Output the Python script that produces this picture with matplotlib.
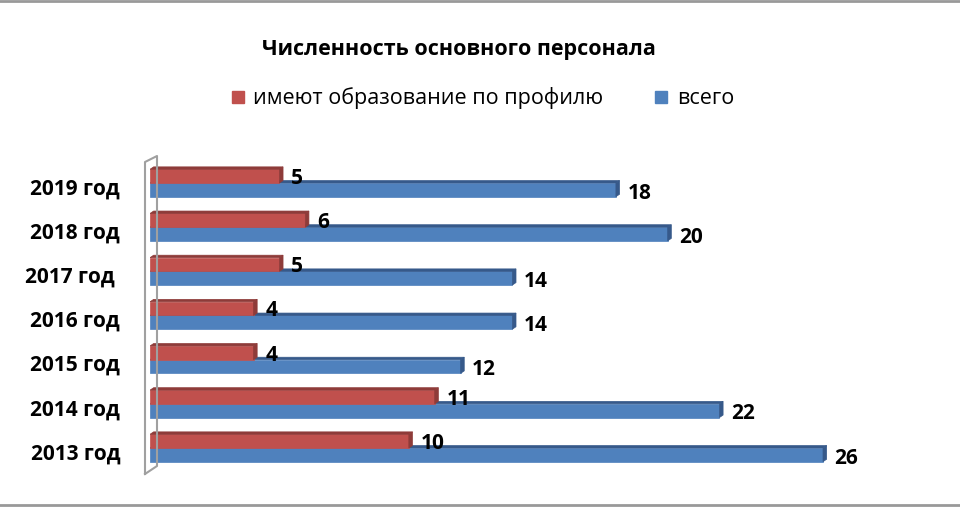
import matplotlib.pyplot as plt
from matplotlib.patches import Polygon
from matplotlib.lines import Line2D
import numpy as np

plt.rcParams['font.family'] = ['Open Sans', 'DejaVu Sans']

# данные
years = ["2013 год", "2014 год", "2015 год", "2016 год", "2017 год ", "2018 год", "2019 год"]
profile = [10, 11, 4, 4, 5, 6, 5]
total = [26, 22, 12, 14, 14, 20, 18]
series_names = ["имеют образование по профилю", "всего"]

red = "#C0504D"
red_dark = "#8E3B39"
blue = "#4F81BD"
blue_dark = "#36598A"

W, H = 960, 510
fig = plt.figure(figsize=(W / 100, H / 100), dpi=100)

# оси: 0 -> x=150px, 26 -> x=823px
ax_left = 150 / W
ax_w = 28 * (823 - 150) / 26 / W
ax_bottom = (H - 475) / H
ax_h = (475 - 157) / H
ax = fig.add_axes([ax_left, ax_bottom, ax_w, ax_h])
ax.set_xlim(0, 28)
ax.set_ylim(-0.589, 6.611)
ax.axis("off")

y = np.arange(len(years))
bh = 0.31
dx, dy = 0.14, 0.055


def bar3d(yc, vals, h, face, dark):
    for yi, v in zip(yc, vals):
        y0, y1 = yi - h / 2, yi + h / 2
        ax.add_patch(Polygon([(0, y0), (v, y0), (v, y1), (0, y1)], closed=True,
                             facecolor=face, edgecolor=face, lw=0.5, zorder=2))
        ax.add_patch(Polygon([(0, y1), (dx, y1 + dy), (v + dx, y1 + dy), (v, y1)], closed=True,
                             facecolor=dark, edgecolor=dark, lw=0.5, zorder=2))
        ax.add_patch(Polygon([(v, y0), (v, y1), (v + dx, y1 + dy), (v + dx, y0 + dy)], closed=True,
                             facecolor=dark, edgecolor=dark, lw=0.5, zorder=2))


bar3d(y - bh / 2, total, bh, blue, blue_dark)
bar3d(y + bh / 2, profile, bh, red, red_dark)

for yi, v in zip(y, profile):
    ax.text(v + 0.45, yi + bh / 2 - 0.03, str(v), ha="left", va="center",
            fontsize=15, fontweight="bold", zorder=5)
for yi, v in zip(y, total):
    ax.text(v + 0.45, yi - bh / 2 - 0.05, str(v), ha="left", va="center",
            fontsize=15, fontweight="bold", zorder=5)

for yi, lab in zip(y, years):
    ax.text(-1.15, yi - 0.11, lab, ha="right", va="center",
            fontsize=15, fontweight="bold")

# стенка
wall = [(145, 475), (145, 163), (157, 157), (157, 467), (145, 475)]
fig.add_artist(Line2D([p[0] / W for p in wall], [1 - p[1] / H for p in wall],
                      color="#A0A0A0", lw=1.5))

# рамка сверху и снизу
fig.add_artist(Line2D([0, 1], [1 - 2 / H, 1 - 2 / H], color="#999999", lw=2))
fig.add_artist(Line2D([0, 1], [1 - 506 / H, 1 - 506 / H], color="#999999", lw=2))

fig.text(459 / W, 1 - 50 / H, "Численность основного персонала", ha="center", va="center",
         fontsize=15.5, fontweight="bold")

# легенда
fig.add_artist(plt.Rectangle((232 / W, 1 - 104 / H), 12 / W, 12 / H, color=red))
fig.text(253 / W, 1 - 98 / H, series_names[0], ha="left", va="center", fontsize=15.5)
fig.add_artist(plt.Rectangle((655 / W, 1 - 104 / H), 12 / W, 12 / H, color=blue))
fig.text(677 / W, 1 - 98 / H, series_names[1], ha="left", va="center", fontsize=15.5)

plt.savefig("out.png", dpi=100)
